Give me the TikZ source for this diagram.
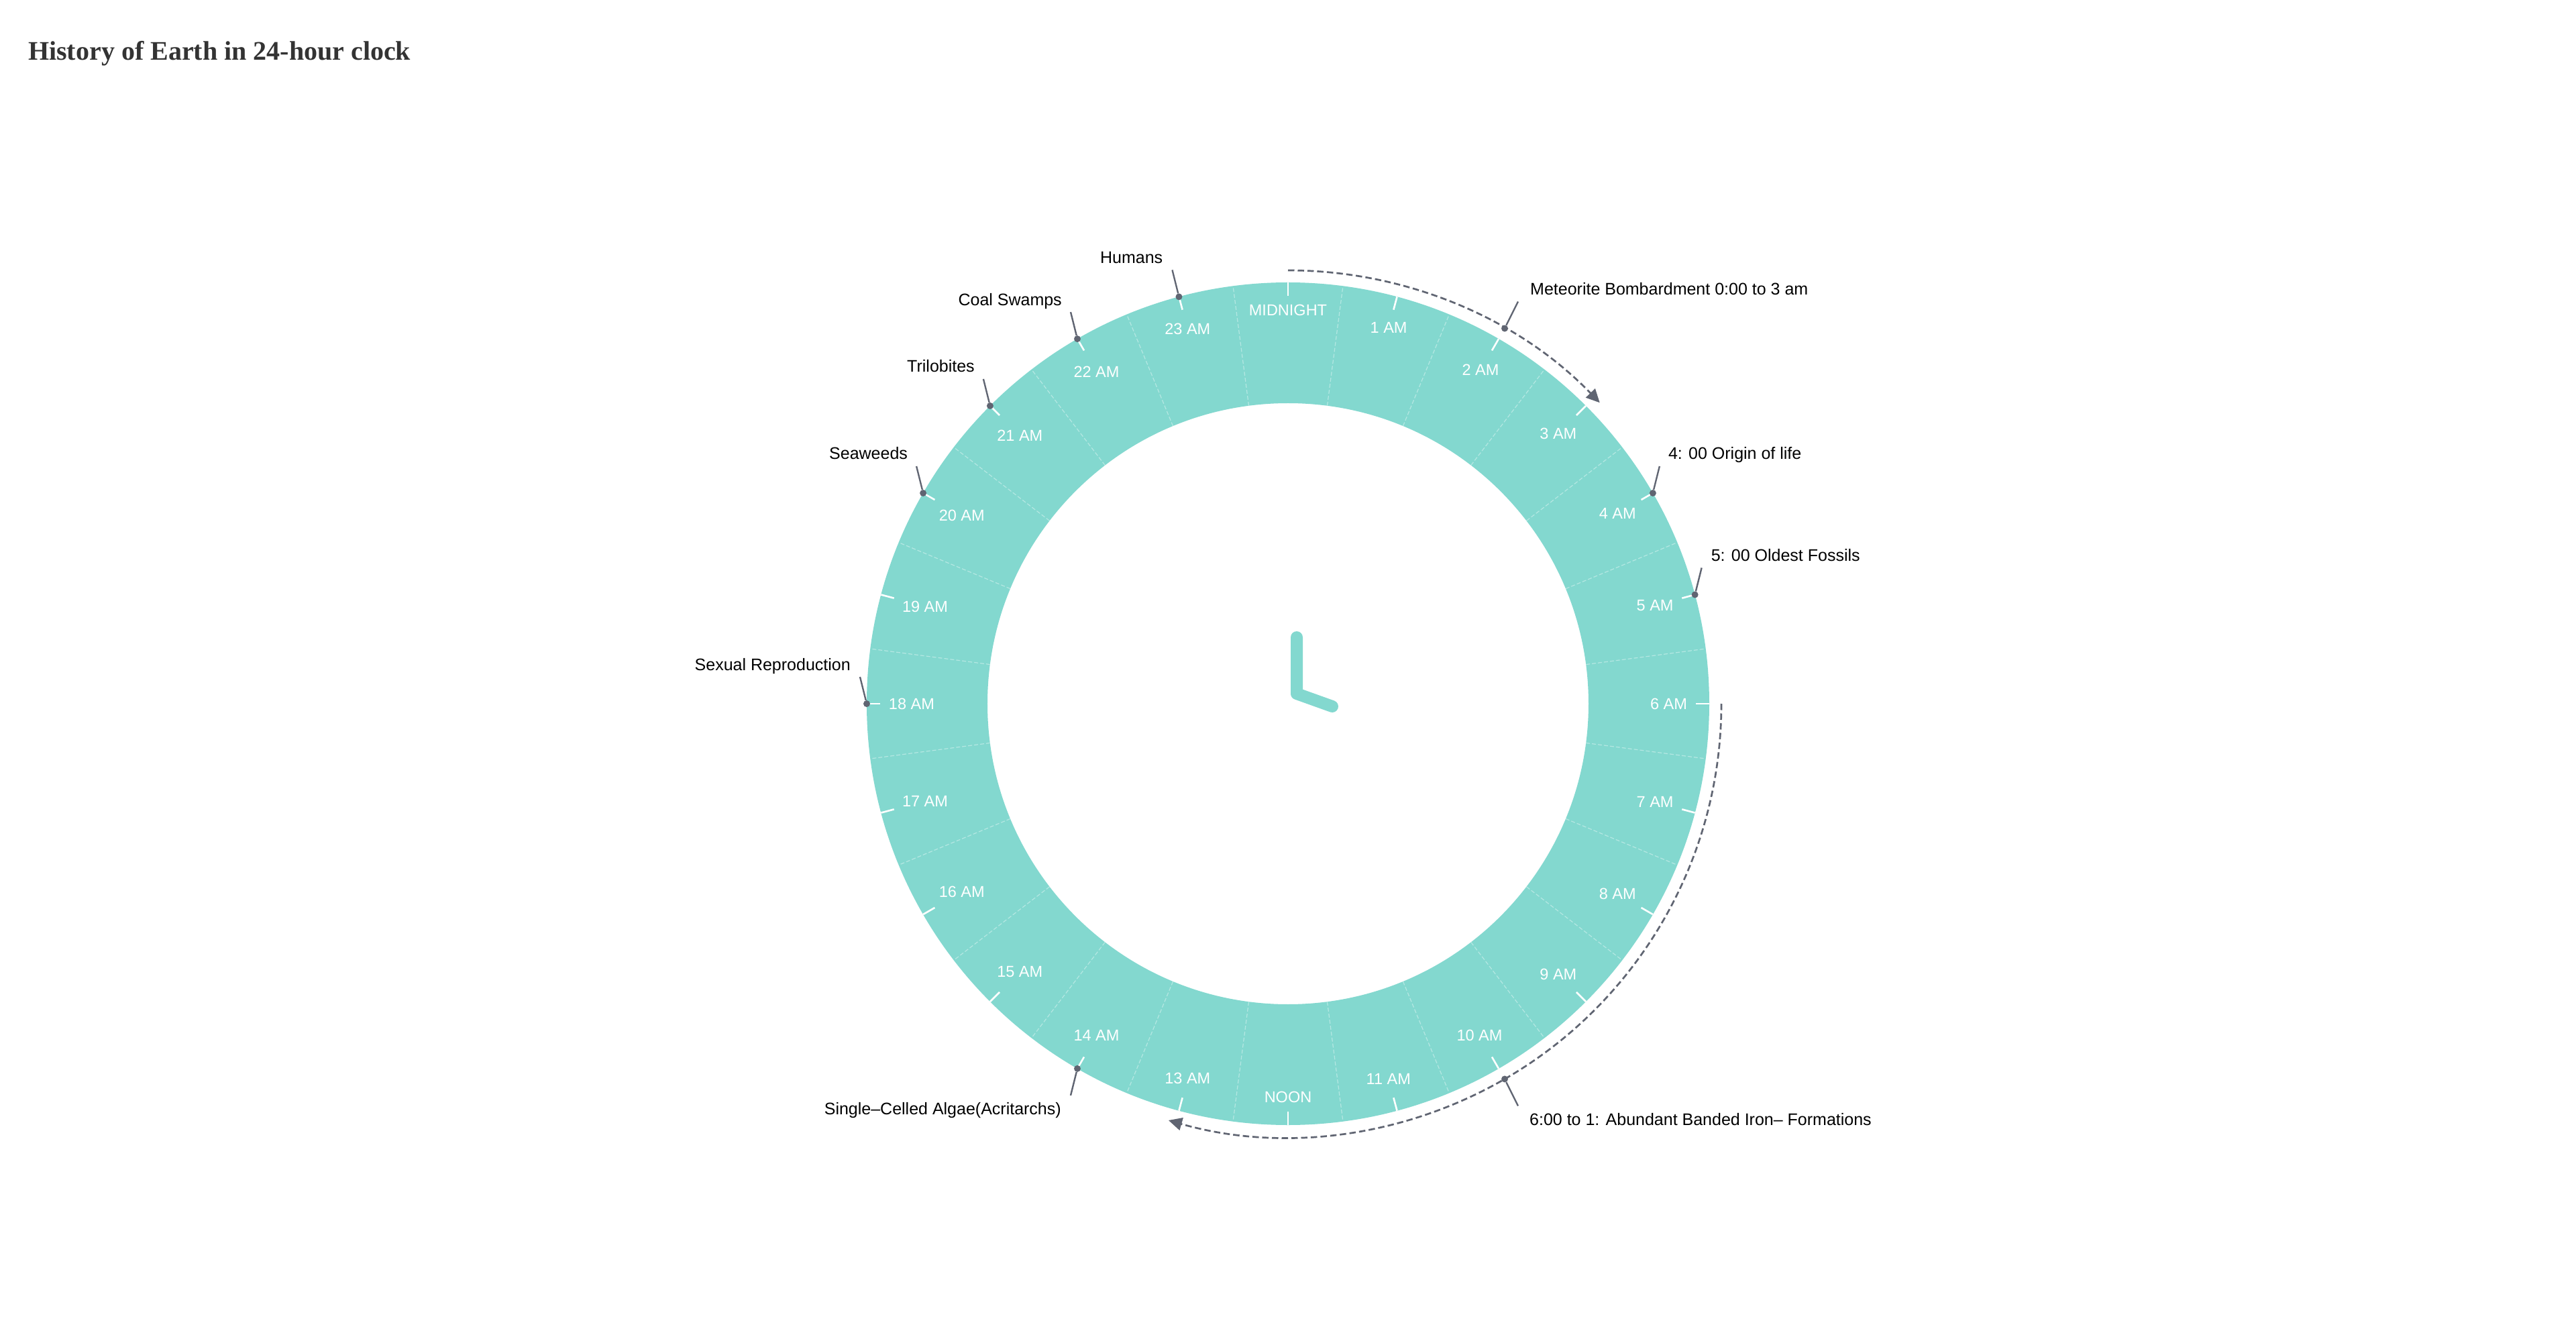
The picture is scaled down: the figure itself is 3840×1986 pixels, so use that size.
\documentclass[tikz,border=0pt]{standalone}
\usepackage{fontspec}
\setmainfont{Liberation Sans}
\newfontfamily\titlefont{Liberation Serif}
\usetikzlibrary{arrows.meta, positioning, calc}

\definecolor{ringTeal}{RGB}{131,216,207}
\definecolor{markGray}{RGB}{96,101,114}
\definecolor{titleGray}{RGB}{51,51,51}

\newcommand{\hourfont}{\fontsize{23.5}{28}\selectfont}
\newcommand{\notefont}{\fontsize{25}{30}\selectfont}
\newsavebox{\hourbox}
\newlength{\hourw}
\newlength{\hourh}

\begin{document}
\begin{tikzpicture}[
		x=1pt, y=1pt,
		ringFill/.style={fill=ringTeal, even odd rule},
		sepLine/.style={draw=white, draw opacity=0.4, line width=1.2pt, dash pattern=on 6pt off 3pt},
		hourTick/.style={draw=white, line width=2.6pt},
		hourText/.style={text=white, font=\hourfont, inner sep=0pt},
		clockHand/.style={draw=ringTeal, line width=18pt, line cap=round, line join=round},
		eventDot/.style={circle, fill=markGray, inner sep=0pt, minimum size=10pt},
		eventLine/.style={draw=markGray, line width=2.4pt},
		eventText/.style={font=\notefont, text=black, inner sep=0pt},
		spanArc/.style={draw=markGray, line width=2.7pt, dash pattern=on 9.5pt off 5pt, -{Triangle[length=20pt, width=19pt]}}
		]

		\useasboundingbox (-1920,-937) rectangle (1920,1049);
		\fill[white] (-1920,-937) rectangle (1920,1049);

		% Title
		\node[anchor=base west, inner sep=0pt, text=titleGray, font={\titlefont\fontsize{40}{48}\selectfont\bfseries}] (title) at (-1878,959) {History of Earth in 24-hour clock};

		% Ring
		\fill[ringFill] (0,0) circle (628) (0,0) circle (448);

		% Hours
		\foreach \h in {0,...,23}{
			\pgfmathsetmacro\ang{90-15*\h}
			\ifnum\h=0 \def\lbl{MIDNIGHT}\else\ifnum\h=12 \def\lbl{NOON}\else\edef\lbl{\h\space AM}\fi\fi
			\pgfinterruptpicture\global\setbox\hourbox=\hbox{\hourfont\lbl}\endpgfinterruptpicture
			\setlength{\hourw}{\wd\hourbox}
			\setlength{\hourh}{\ht\hourbox}
			\pgfmathsetmacro\rlab{595-0.5*\hourw*abs(cos(\ang))-0.5*\hourh*abs(sin(\ang))}
			\draw[sepLine] (\ang-7.5:448) -- (\ang-7.5:628);
			\draw[hourTick] (\ang:628) -- (\ang:608);
			\node[hourText] (hour-\h) at (\ang:\rlab) {\lbl};
		}

		% Hands
		\draw[clockHand] (13,99) -- (13,15) -- (66,-4);

		% Arcs
		\coordinate (bombStart) at (90:646);
		\draw[spanArc] (bombStart) arc[start angle=90, end angle=44, radius=646];
		\coordinate (ironStart) at (0:646);
		\draw[spanArc] (ironStart) arc[start angle=0, end angle=-106, radius=646];

		% Events
		\node[eventDot] (bomb-dot) at (60:646) {};
		\coordinate (bomb-end) at ($(bomb-dot)+(20,40)$);
		\node[eventText, anchor=base west] (bomb-text) at ($(bomb-end)+(18,10)$) {Meteorite Bombardment 0:00 to 3 am};

		\node[eventDot] (origin-dot) at (30:628) {};
		\coordinate (origin-end) at ($(origin-dot)+(10,40)$);
		\node[eventText, anchor=base west] (origin-text) at ($(origin-end)+(13,10)$) {4: 00 Origin of life};

		\node[eventDot] (fossil-dot) at (15:628) {};
		\coordinate (fossil-end) at ($(fossil-dot)+(10,40)$);
		\node[eventText, anchor=base west] (fossil-text) at ($(fossil-end)+(14,10)$) {5: 00 Oldest Fossils};

		\node[eventDot] (iron-dot) at (-60:646) {};
		\coordinate (iron-end) at ($(iron-dot)+(20,-40)$);
		\node[eventText, anchor=base west] (iron-text) at ($(iron-end)+(17,-29)$) {6:00 to 1: Abundant Banded Iron– Formations};

		\node[eventDot] (algae-dot) at (240:628) {};
		\coordinate (algae-end) at ($(algae-dot)+(-10,-40)$);
		\node[eventText, anchor=base east] (algae-text) at ($(algae-end)+(-14,-29)$) {Single–Celled Algae(Acritarchs)};

		\node[eventDot] (sex-dot) at (180:628) {};
		\coordinate (sex-end) at ($(sex-dot)+(-10,40)$);
		\node[eventText, anchor=base east] (sex-text) at ($(sex-end)+(-14,10)$) {Sexual Reproduction};

		\node[eventDot] (weed-dot) at (150:628) {};
		\coordinate (weed-end) at ($(weed-dot)+(-10,40)$);
		\node[eventText, anchor=base east] (weed-text) at ($(weed-end)+(-13,10)$) {Seaweeds};

		\node[eventDot] (trilo-dot) at (135:628) {};
		\coordinate (trilo-end) at ($(trilo-dot)+(-10,40)$);
		\node[eventText, anchor=base east] (trilo-text) at ($(trilo-end)+(-13,10)$) {Trilobites};

		\node[eventDot] (coal-dot) at (120:628) {};
		\coordinate (coal-end) at ($(coal-dot)+(-10,40)$);
		\node[eventText, anchor=base east] (coal-text) at ($(coal-end)+(-13,10)$) {Coal Swamps};

		\node[eventDot] (human-dot) at (105:628) {};
		\coordinate (human-end) at ($(human-dot)+(-10,40)$);
		\node[eventText, anchor=base east] (human-text) at ($(human-end)+(-14,10)$) {Humans};

		% Lines
		\foreach \ev in {bomb, origin, fossil, iron, algae, sex, weed, trilo, coal, human}
			\draw[eventLine] (\ev-dot) -- (\ev-end);

	\end{tikzpicture}
\end{document}
